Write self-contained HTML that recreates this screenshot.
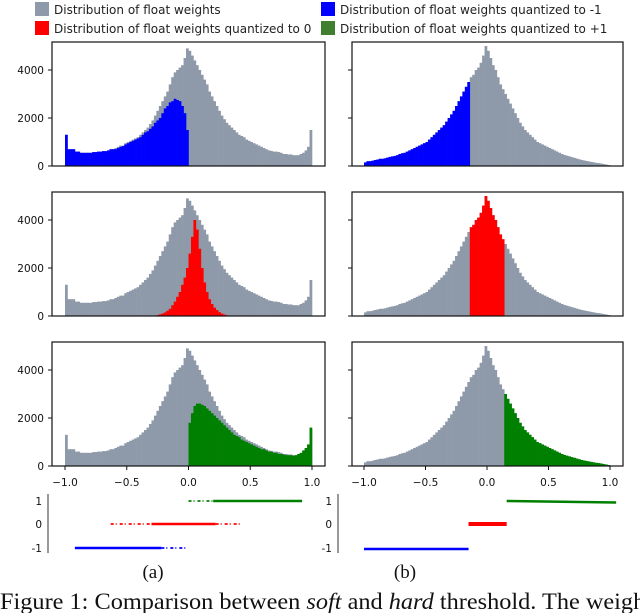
<!DOCTYPE html>
<html><head><meta charset="utf-8"><style>
body{margin:0;background:#fff;width:640px;height:613px;overflow:hidden}
svg{display:block}
.t{font-family:"DejaVu Sans","Liberation Sans",sans-serif;font-size:10.5px;fill:#111}
.lg{font-family:"DejaVu Sans","Liberation Sans",sans-serif;font-size:12px;fill:#222}
.sf{font-family:"Liberation Serif",serif;fill:#111}
</style></head><body>
<svg id="fig" width="640" height="613" viewBox="0 0 640 613">
<g>
<rect x="35" y="2" width="14" height="14" fill="#8e9aa9"/>
<text class="lg" x="54" y="14">Distribution of float weights</text>
<rect x="35" y="21" width="14" height="14" fill="#ff0000"/>
<text class="lg" x="54" y="33">Distribution of float weights quantized to 0</text>
<rect x="321" y="2" width="14" height="14" fill="#0000ff"/>
<text class="lg" x="340" y="14">Distribution of float weights quantized to -1</text>
<rect x="321" y="21" width="14" height="14" fill="#3f7f2f"/>
<text class="lg" x="340" y="33">Distribution of float weights quantized to +1</text>
</g>
<text class="sf" x="153" y="578" font-size="19" text-anchor="middle">(a)</text>
<text class="sf" x="405" y="578" font-size="19" text-anchor="middle">(b)</text>
<text class="sf" x="0" y="609" font-size="23" textLength="652" lengthAdjust="spacingAndGlyphs">Figure 1: Comparison between <tspan font-style="italic">soft</tspan> and <tspan font-style="italic">hard</tspan> threshold. The weight</text>
</svg>
<script>
// counts in hundreds, 100 bins from -1 to 1
const grayA = [13,7,7,7,6,6,5.5,5.5,5.5,5.5,5.5,5.8,5.8,6,6,6.2,6.2,6.5,7,7,7.5,8,8.5,8.5,9.5,10,10.5,11,11.5,12,13,14,15,16,17.5,19,21,23,25,27,29,31,34,37,39,40,41,42,45,49,
48,46,44,42,40,38,36,34,31,29,27,25,23,21,19.5,18,17,16,15,14,13,12.5,12,11,10.5,10,9.5,9,8.5,8,7.5,7,6.5,6.3,6,6,5.8,5.5,5,5,4.8,4.8,4.5,4.5,4.5,5,5.5,6.5,8,15];
const blueA = [13,7,7,7,6,6,5.5,5.5,5.5,5.5,5.5,5.8,5.8,6,6,6.2,6.2,6.5,7,7,7,7.5,8,8.3,9,9.5,10,10.5,11,11.5,12,13,14,14.5,15.5,16.5,18,19,20,22,24,25,26.5,27,28,27.5,27,25,22,15];
const redAStart = 36;
const redA = [0.2,0.4,0.7,1,1.5,2.2,3,4.5,6,8,10,13,16,20,26,33,40,36,28,20,14,10,7,5,3.5,2.5,1.6,1,0.6,0.3];
const greenAStart = 50;
const greenA = [18,22,25,26,26,25.5,25,24,23,22,21,20,19,18,17,16,15,14,13,12.5,12,11,10.5,10,9.5,9,8.5,8,7.5,7,7,6.5,6,6,5.5,5.5,5,5,4.8,4.5,4.5,4.5,4.3,4.5,5,5.5,6.5,7.5,9,16];
const grayB = [1.5,2,2,2.2,2.5,2.7,3,3,3.2,3.5,3.8,4,4.2,4.5,5,5.3,5.5,6,6.5,7,7.5,8,8.5,9,9.5,10,11,12,13,14,15,16,17,18.5,20,21.5,23,25,27,29,31,33,35,37,38,40,41,43,46,50,
48,45,42,40,37,34,32,30,28,26,24,22,20,18,16.5,15,14,13,12,11,10,9.5,9,8.5,8,7.5,7,6.5,6,5.5,5,4.6,4.3,4,3.7,3.4,3.1,2.8,2.5,2.3,2.1,1.9,1.7,1.5,1.3,1.2,1,0.8,0.6,0.4];
const hardThreshold = 0.15;
const yTicks = [0,2000,4000];
const yTickLabels = ["0","2000","4000"];
const xTicks = [-1,-0.5,0,0.5,1];
const xTickLabels = ["\u22121.0","\u22120.5","0.0","0.5","1.0"];
const softSegs = [[-0.92,-0.22,-1,"solid"],[-0.22,-0.02,-1,"dots"],[-0.63,-0.3,0,"dots"],[-0.3,0.22,0,"solid"],[0.22,0.42,0,"dots"],[0,0.2,1,"dots"],[0.2,0.92,1,"solid"]];
const hardSegs = [[-1,-0.15,-1,-1],[-0.15,0.16,0,0],[0.16,1.05,1,0.97]];

const NS="http://www.w3.org/2000/svg", svg=document.getElementById('fig');
function mk(tag,attrs,parent){const e=document.createElementNS(NS,tag);for(const k in attrs)e.setAttribute(k,attrs[k]);(parent||svg).appendChild(e);return e;}
const panels={a:{fx:52,fw:273,x0:65,sc:123.5},b:{fx:352,fw:271,x0:364,sc:123}};
function xs(p,v){return panels[p].x0+(v+1)*panels[p].sc;}
function ys(base,count){return base-count*0.024;}
const binW=0.02;
function bars(g,p,base,arr,start,color,name){
  arr.forEach((v,i)=>{const b=start+i;const lo=-1+b*binW;
    const x=xs(p,lo),w=xs(p,lo+binW)-x;
    const r=mk('rect',{x:x.toFixed(2),y:ys(base,v*100).toFixed(2),width:(w+0.3).toFixed(2),height:(v*100*0.024).toFixed(2),fill:color},g);
    
    
  });
}
const bases=[166,316,466];
const GRAY="#8e9aa9";
bases.forEach((base,ri)=>{
  ['a','b'].forEach(p=>{
    const g=mk('g',{});
    
    
    const P=panels[p];
    const gray=p==='a'?grayA:grayB;
    bars(g,p,base,gray,0,GRAY,'float');
    if(p==='a'){
      if(ri===0)bars(g,p,base,blueA,0,'#0000ff','minus-one');
      if(ri===1)bars(g,p,base,redA,redAStart,'#ff0000','zero');
      if(ri===2)bars(g,p,base,greenA,greenAStart,'#008000','plus-one');
    } else {
      const sub=[];let st=0;
      gray.forEach((v,i)=>{const c=-1+(i+0.5)*binW;
        const inSet = ri===0? c< -hardThreshold : ri===1? Math.abs(c)<=hardThreshold : c>hardThreshold;
        if(inSet){if(!sub.length)st=i;sub.push(v);} });
      bars(g,p,base,sub,st,['#0000ff','#ff0000','#008000'][ri],['minus-one','zero','plus-one'][ri]);
    }
    const fr=mk('rect',{x:P.fx,y:base-124,width:P.fw,height:124,fill:'none',stroke:'#111','stroke-width':1.2},g);
    
    
    yTicks.forEach((t,k)=>{const y=ys(base,t);
      mk('line',{x1:P.fx-4,x2:P.fx,y1:y,y2:y,stroke:'#111'},g);
      if(p==='a'){const tx=mk('text',{x:P.fx-8,y:y+4,'text-anchor':'end','class':'t'},g);tx.textContent=yTickLabels[k];
        
        }
    });
    if(ri===2){xTicks.forEach((t,k)=>{const x=xs(p,t);
      mk('line',{x1:x,x2:x,y1:base,y2:base+4,stroke:'#111'},g);
      const tx=mk('text',{x:x,y:base+20,'text-anchor':'middle','class':'t'},g);tx.textContent=xTickLabels[k];
      
      });}
  });
});
const qy={1:501,0:524,"-1":548};
const qcol={1:'#008000',0:'#ff0000',"-1":'#0000ff'};
function qAxis(p,ax,lx){
  const g=mk('g',{});
  
  
  mk('line',{x1:ax,x2:ax,y1:494,y2:553,stroke:'#777','stroke-width':1.5},g);
  [1,0,-1].forEach(l=>{const t=mk('text',{x:lx,y:qy[l]+4,'text-anchor':'end','class':'t',fill:'#333'},g);t.textContent=String(l);
    
    });
  return g;
}
const ga=qAxis('a',48,42);
softSegs.forEach(s=>{const l=mk('line',{x1:xs('a',s[0]),x2:xs('a',s[1]),y1:qy[s[2]],y2:qy[s[2]],stroke:qcol[s[2]],'stroke-width':s[3]==='solid'?2.5:1.8,'stroke-dasharray':s[3]==='solid'?'none':'3 2 1 3'},ga);
  
  });
const gb=qAxis('b',338,332);
hardSegs.forEach(s=>{const l=mk('line',{x1:xs('b',s[0]),x2:xs('b',s[1]),y1:qy[s[2]]+(s[2]===-1?1:0),y2:qy[s[2]]+(s[2]===-1?1:0)+(s[2]-s[3])*50,stroke:qcol[s[2]],'stroke-width':s[2]===0?4:2.5},gb);
  
  });
</script>
</body></html>
